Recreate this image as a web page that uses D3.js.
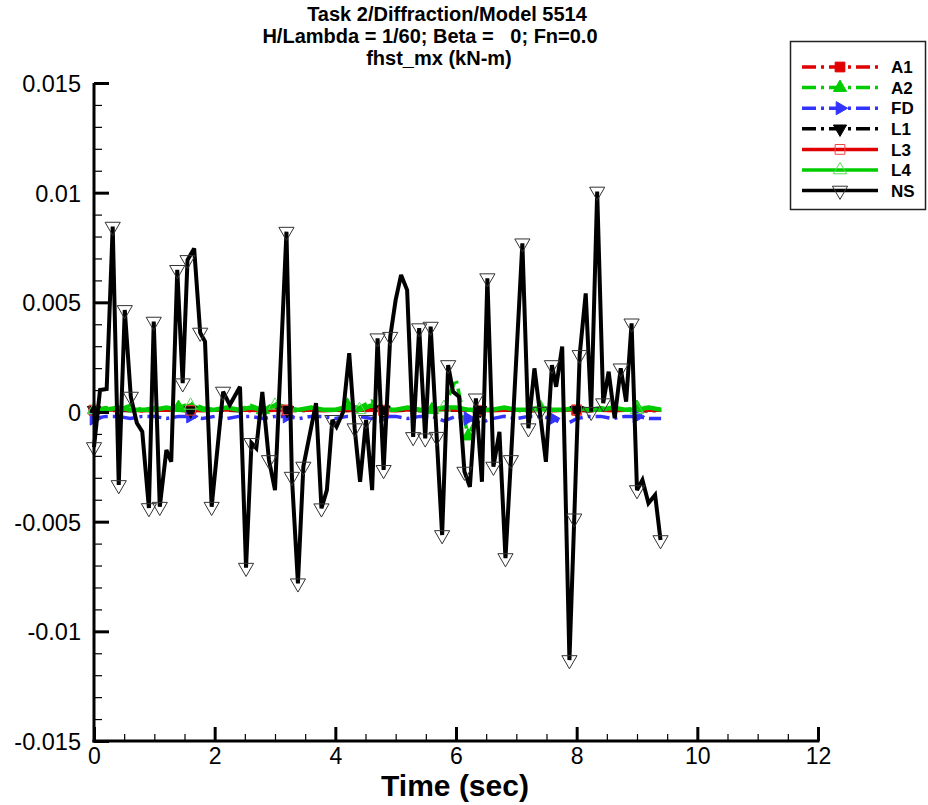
<!DOCTYPE html>
<html><head><meta charset="utf-8">
<script src="https://cdn.jsdelivr.net/npm/d3@7"></script>
<style>
body{margin:0;background:#fff}
svg{display:block}
text{font-family:"Liberation Sans",Arial,Helvetica,sans-serif;fill:#000}
</style>
</head><body>
<svg id="chart" width="928" height="805"></svg>
<script>
// ---------- data ----------
const titleLines = ["Task 2/Diffraction/Model 5514", "H/Lambda = 1/60; Beta =   0; Fn=0.0", "fhst_mx (kN-m)"];
const xAxisTitle = "Time (sec)";
const xTicks = [0, 2, 4, 6, 8, 10, 12];
const xTickLabels = ["0", "2", "4", "6", "8", "10", "12"];
const yTicks = [-0.015, -0.01, -0.005, 0, 0.005, 0.01, 0.015];
const yTickLabels = ["-0.015", "-0.01", "-0.005", "0", "0.005", "0.01", "0.015"];
const seriesNames = ["A1", "A2", "FD", "L1", "L3", "L4", "NS"];

const refTime = [0,0.2,0.4,0.6,0.8,1.0,1.2,1.4,1.6,1.8,2.0,2.2,2.4,2.6,2.8,3.0,3.2,3.4,3.6,3.8,4.0,4.2,4.4,4.6,4.8,5.0,5.2,5.4,5.6,5.8,6.0,6.2,6.4,6.6,6.8,7.0,7.2,7.4,7.6,7.8,8.0,8.2,8.4,8.6,8.8,9.0,9.2,9.4];
const a1Value = [0.00008,0.00006,0.00008,0.0001,0.00006,0.00008,0.0001,0.00008,0.00006,0.00008,0.0001,0.00008,0.00008,0.00006,0.0001,0.00008,0.00006,0.00008,0.0001,0.00008,0.00008,0.00006,0.00008,0.0001,0.00008,0.00006,0.00008,0.0001,0.00008,0.00008,0.00012,0.00008,0.00004,0.00008,0.0001,0.00008,0.00006,0.00008,0.0001,0.00008,0.00008,0.00006,0.00008,0.0001,0.00008,0.00008,0.00006,0.00008];
const a2Value = [0.0001,0.0002,0.0001,0.0003,0.0001,0.0002,0.0001,0.0002,0.0004,0.0002,0.0001,0.0002,0.0001,0.0003,0.0001,0.0004,0.0002,0.0001,0.0002,0.0001,0.0001,0.0003,0.0002,0.0005,0.0002,0.0001,0.0002,0.0001,0.0001,0.0002,0.0015,-0.0011,0.0001,0.0001,0.0002,0.0001,0.0001,0.0002,0.0001,0.0001,0.0002,0.0001,0.0002,0.0001,0.0001,0.0002,0.0002,0.0001];
const fdValue = [-0.0003,-0.0002,-0.0002,-0.0003,-0.0002,-0.0002,-0.0003,-0.0002,-0.0002,-0.0003,-0.0002,-0.0003,-0.0002,-0.0002,-0.0003,-0.0002,-0.0002,-0.0003,-0.0002,-0.0002,-0.0003,-0.0002,-0.0002,-0.0003,-0.0002,-0.0002,-0.0003,-0.0002,-0.0002,-0.0004,-0.0002,-0.0003,-0.0005,-0.0003,-0.0002,-0.0003,-0.0002,-0.0002,-0.0003,-0.0006,-0.0003,-0.0002,-0.0002,-0.0003,-0.0002,-0.0002,-0.0003,-0.0003];
const l1Value = [0.00008,0.0001,0.00008,0.00006,0.00008,0.0001,0.00008,0.00008,0.00006,0.00008,0.0001,0.00008,0.00006,0.00008,0.00008,0.0001,0.00008,0.00006,0.00008,0.0001,0.00008,0.00008,0.00006,0.00008,0.0001,0.00008,0.00008,0.00006,0.00008,0.0001,0.00008,0.00006,0.00008,0.00008,0.0001,0.00008,0.00006,0.00008,0.00008,0.0001,0.00008,0.00006,0.00008,0.00008,0.0001,0.00008,0.00006,0.00008];
const l3Value = [0.00008,0.00008,0.0001,0.00008,0.00006,0.00008,0.00008,0.0001,0.00008,0.00006,0.00008,0.0001,0.00008,0.00008,0.00006,0.00008,0.0001,0.00008,0.00008,0.00006,0.00008,0.0001,0.00008,0.00008,0.00006,0.00008,0.0001,0.00008,0.00006,0.00008,0.0001,0.00008,0.00008,0.00006,0.00008,0.0001,0.00008,0.00008,0.00006,0.00008,0.0001,0.00008,0.00008,0.00006,0.00008,0.0001,0.00008,0.00008];
const l4Value = [0.0001,0.0001,0.0002,0.0001,0.0001,0.0001,0.0002,0.0001,0.0003,0.0001,0.0001,0.0002,0.0001,0.0002,0.0001,0.0003,0.0001,0.0001,0.0002,0.0001,0.0001,0.0002,0.0001,0.0003,0.0001,0.0001,0.0002,0.0001,0.0001,0.0002,0.0002,0.0001,0.0001,0.0001,0.0002,0.0001,0.0001,0.0002,0.0001,0.0001,0.0002,0.0001,0.0001,0.0002,0.0001,0.0001,0.0002,0.0001];

const nsTime = [0.00,0.10,0.21,0.31,0.41,0.51,0.61,0.71,0.80,0.91,
  0.99,1.09,1.20,1.28,1.38,1.47,1.55,1.66,1.76,1.84,
  1.95,2.14,2.25,2.42,2.52,2.61,2.69,2.79,2.90,3.00,
  3.19,3.28,3.38,3.47,3.68,3.77,3.86,3.95,4.02,4.13,
  4.23,4.32,4.41,4.51,4.61,4.70,4.80,4.91,5.00,5.09,
  5.19,5.29,5.39,5.49,5.58,5.68,5.77,5.87,5.95,6.05,
  6.14,6.23,6.33,6.43,6.52,6.62,6.72,6.82,6.91,7.10,
  7.20,7.30,7.39,7.49,7.59,7.66,7.76,7.88,7.96,8.05,
  8.15,8.24,8.34,8.44,8.53,8.63,8.73,8.82,8.91,9.00,
  9.09,9.19,9.30,9.39];
const nsValue = [-0.00160,0.00100,0.00105,0.00845,-0.00333,0.00465,0.00070,-0.00050,-0.00090,-0.00438,
  0.00412,-0.00432,-0.00173,-0.00227,0.00648,0.00131,0.00693,0.00746,0.00362,0.00321,
  -0.00432,0.00093,0.00032,0.00115,-0.00710,-0.00141,-0.00165,0.00091,-0.00219,-0.00356,
  0.00822,-0.00295,-0.00781,-0.00249,0.00040,-0.00439,-0.00356,-0.00036,-0.00067,0.00001,
  0.00268,-0.00074,-0.00318,-0.00036,-0.00356,0.00336,-0.00264,0.00343,0.00511,0.00625,
  0.00556,-0.00114,0.00382,-0.00120,0.00389,-0.00113,-0.00561,0.00214,0.00093,0.00070,
  -0.00272,-0.00341,0.00062,-0.00318,0.00610,-0.00249,-0.00091,-0.00666,-0.00219,0.00769,
  -0.00074,0.00199,0.00001,-0.00227,0.00214,0.00115,0.00298,-0.01131,-0.00485,0.00260,
  0.00541,0.00001,0.01005,0.00040,0.00184,-0.00029,0.00199,0.00047,0.00404,-0.00356,
  -0.00310,-0.00416,-0.00378,-0.00584];

// ---------- setup ----------
const svg = d3.select("#chart");
const X0 = 94, X1 = 818, YT = 83, YB = 741;
const x = d3.scaleLinear().domain([0, 12]).range([X0, X1]);
const y = d3.scaleLinear().domain([-0.015, 0.015]).range([YB, YT]);

const RED = "#e00000", GREEN = "#00cc00", BLUE = "#3333ff";
const DASHDOT = "14,5,3,5";

const mk = {
  square: d3.symbol().type(d3.symbolSquare).size(95)(),
  tri: d3.symbol().type(d3.symbolTriangle).size(75)(),
  triBig: d3.symbol().type(d3.symbolTriangle).size(100)()
};

const series = [
  {name: seriesNames[0], t: refTime, v: a1Value, color: RED, dash: DASHDOT, w: 3.5, shape: mk.square, rot: 0, fill: RED, mstroke: RED},
  {name: seriesNames[1], t: refTime, v: a2Value, color: GREEN, dash: DASHDOT, w: 3.5, shape: mk.tri, rot: 0, fill: GREEN, mstroke: GREEN},
  {name: seriesNames[2], t: refTime, v: fdValue, color: BLUE, dash: DASHDOT, w: 3.5, shape: mk.tri, rot: 90, fill: BLUE, mstroke: BLUE},
  {name: seriesNames[3], t: refTime, v: l1Value, color: "#000", dash: DASHDOT, w: 3.5, shape: mk.tri, rot: 180, fill: "#000", mstroke: "#000"},
  {name: seriesNames[4], t: refTime, v: l3Value, color: RED, dash: null, w: 3.5, shape: mk.square, rot: 0, fill: "none", mstroke: "#ee4444"},
  {name: seriesNames[5], t: refTime, v: l4Value, color: GREEN, dash: null, w: 4.5, shape: mk.tri, rot: 0, fill: "none", mstroke: "#55dd55"},
  {name: seriesNames[6], t: nsTime, v: nsValue, color: "#000", dash: null, w: 4, shape: mk.triBig, rot: 180, fill: "none", mstroke: "#333"}
];

function markerIndices(pts, D) {
  const idx = [0]; let acc = 0;
  for (let i = 1; i < pts.length; i++) {
    acc += Math.hypot(pts[i][0] - pts[i-1][0], pts[i][1] - pts[i-1][1]);
    if (acc >= D) { idx.push(i); acc = 0; }
  }
  return idx;
}

const line = d3.line();
const lineLayer = svg.append("g");
const markerLayer = svg.append("g");
series.forEach((s, si) => {
  const n = Math.min(s.t.length, s.v.length);
  const pts = d3.range(n).map(i => [x(s.t[i]), y(s.v[i])]);
  const target = si === 6 ? markerLayer : lineLayer;
  target.append("path").attr("d", line(pts)).attr("fill", "none")
    .attr("stroke", s.color).attr("stroke-width", s.w)
    .attr("stroke-linejoin", "miter").attr("stroke-miterlimit", 3)
    .attr("stroke-dasharray", s.dash);
  const mi = markerIndices(pts, 86);
  markerLayer.selectAll(null).data(mi).enter().append("path")
    .attr("d", s.shape)
    .attr("transform", i => `translate(${pts[i][0]},${pts[i][1]}) rotate(${s.rot})`)
    .attr("fill", s.fill).attr("stroke", s.mstroke).attr("stroke-width", 1);
});

// ---------- axes ----------
const yAxisMinor = d3.axisLeft(y).tickValues(y.ticks(30)).tickSize(-8).tickFormat("");
const yAxisMajor = d3.axisLeft(y).tickValues(yTicks).tickSize(-15).tickPadding(28)
  .tickFormat((d, i) => yTickLabels[i]);
const xAxisMinor = d3.axisBottom(x).tickValues(x.ticks(24)).tickSize(-7).tickFormat("");
const xAxisMajor = d3.axisBottom(x).tickValues(xTicks).tickSize(-14).tickPadding(28)
  .tickFormat((d, i) => xTickLabels[i]);

function styleAxis(g, w) {
  g.select(".domain").remove();
  g.selectAll(".tick line").attr("stroke", "#000").attr("stroke-width", w);
}
svg.append("g").attr("transform", `translate(${X0},0)`).call(yAxisMinor).call(g => styleAxis(g, 1.2));
const ya = svg.append("g").attr("transform", `translate(${X0},0)`).call(yAxisMajor).call(g => styleAxis(g, 3));
ya.selectAll(".tick text").attr("font-size", 23.5).attr("font-family", "Liberation Sans, Arial, sans-serif")
  .attr("dy", "0.36em").attr("x", -13).attr("fill", "#000");
svg.append("g").attr("transform", `translate(0,${YB})`).call(xAxisMinor).call(g => styleAxis(g, 1.2));
const xa = svg.append("g").attr("transform", `translate(0,${YB})`).call(xAxisMajor).call(g => styleAxis(g, 3));
xa.selectAll(".tick text").attr("font-size", 23).attr("font-family", "Liberation Sans, Arial, sans-serif")
  .attr("y", 7).attr("dy", "0.71em").attr("fill", "#000");

// axis lines
svg.append("line").attr("x1", X0).attr("x2", X0).attr("y1", YT).attr("y2", YB + 1.5)
  .attr("stroke", "#000").attr("stroke-width", 3);
svg.append("line").attr("x1", X0 - 1.5).attr("x2", X1 + 1.5).attr("y1", YB).attr("y2", YB)
  .attr("stroke", "#000").attr("stroke-width", 3);

// x axis title
svg.append("text").attr("x", 455).attr("y", 796).attr("text-anchor", "middle")
  .attr("font-size", 30).attr("font-weight", "bold").text(xAxisTitle);

// title
const titleX = [447, 430, 439];
const titleY = [21, 43, 65];
titleLines.forEach((t, i) => {
  svg.append("text").attr("x", titleX[i]).attr("y", titleY[i]).attr("text-anchor", "middle")
    .attr("font-size", 20).attr("font-weight", "bold").style("white-space", "pre").text(t);
});

// ---------- legend ----------
const lg = svg.append("g");
lg.append("rect").attr("x", 790.5).attr("y", 41.5).attr("width", 135).attr("height", 168)
  .attr("fill", "#fff").attr("stroke", "#222").attr("stroke-width", 1.5);
series.forEach((s, i) => {
  const ly = 67 + i * 20.6;
  lg.append("line").attr("x1", 802).attr("x2", 878).attr("y1", ly).attr("y2", ly)
    .attr("stroke", s.color).attr("stroke-width", 3.5).attr("stroke-dasharray", s.dash);
  lg.append("path").attr("d", s.shape).attr("transform", `translate(840,${ly}) rotate(${s.rot})`)
    .attr("fill", s.fill).attr("stroke", s.mstroke).attr("stroke-width", 1);
  lg.append("text").attr("x", 891).attr("y", ly).attr("dy", "0.36em")
    .attr("font-size", 17).attr("font-weight", "bold").text(s.name);
});
</script>
</body></html>
